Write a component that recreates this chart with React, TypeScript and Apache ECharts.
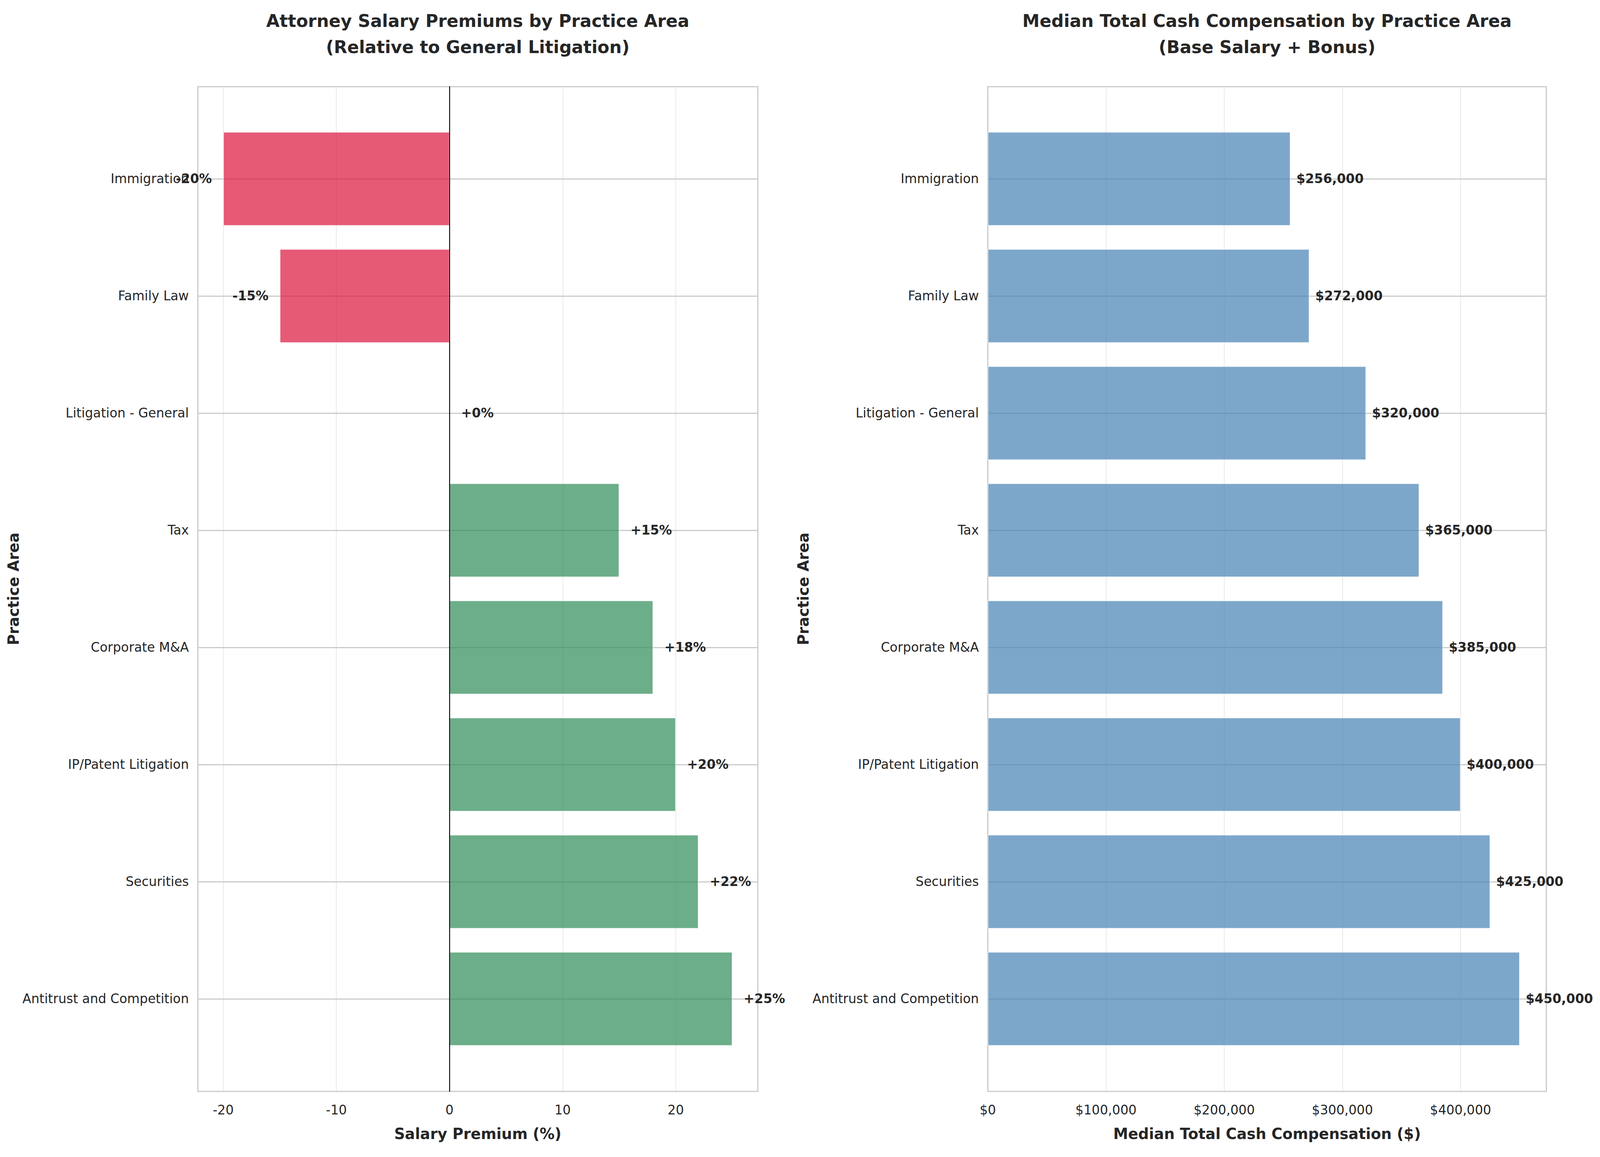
import React, { useEffect, useRef } from "react";
import * as echarts from "echarts";

const categories = [
  "Immigration",
  "Family Law",
  "Litigation - General",
  "Tax",
  "Corporate M&A",
  "IP/Patent Litigation",
  "Securities",
  "Antitrust and Competition",
];
const premiums = [-20, -15, 0, 15, 18, 20, 22, 25];
const compensation = [256000, 272000, 320000, 365000, 385000, 400000, 425000, 450000];

const leftTitle = "Attorney Salary Premiums by Practice Area\n(Relative to General Litigation)";
const rightTitle = "Median Total Cash Compensation by Practice Area\n(Base Salary + Bonus)";
const leftXName = "Salary Premium (%)";
const rightXName = "Median Total Cash Compensation ($)";
const yName = "Practice Area";

const FONT = "DejaVu Sans";
const TXT = "#262626";
const REF_W = 5363;
const REF_H = 2963;

const fmtMoney = (v: number) => "$" + Math.round(v).toLocaleString("en-US");
const fmtPct = (v: number) => (v >= 0 ? "+" : "") + v + "%";

export default function App() {
  const ref = useRef<HTMLDivElement>(null);
  useEffect(() => {
    if (!ref.current) return;
    const chart = echarts.init(ref.current, null, { renderer: "svg" });
    const cw = chart.getWidth();
    const ch = chart.getHeight();
    const sx = cw / REF_W;
    const sy = ch / REF_H;
    const fs = Math.min(sx, sy);
    const X = (v: number) => v * sx;
    const Y = (v: number) => v * sy;
    const F = (v: number) => v * fs;

    const L = { left: X(663), right: X(REF_W - 2540) };
    const R = { left: X(3311), right: X(REF_W - 5183) };
    const frameTB = { top: Y(222), bottom: Y(REF_H - 2795) };
    const barTB = { top: Y(458), bottom: Y(REF_H - 2558) };

    const valueFrameX = (gridIndex: number, min: number, max: number, name: string, fmt?: (v: number) => string, interval?: number) => ({
      type: "value",
      gridIndex,
      min,
      max,
      ...(interval ? { interval } : {}),
      axisLine: { show: false },
      axisTick: { show: false },
      splitLine: { show: true, lineStyle: { color: "rgba(204,204,204,0.4)", width: F(3) } },
      axisLabel: {
        fontSize: F(43),
        color: TXT,
        fontFamily: FONT,
        margin: Y(31),
        showMinLabel: min === 0,
        showMaxLabel: false,
        ...(fmt ? { formatter: fmt } : {}),
      },
      name,
      nameLocation: "middle",
      nameGap: Y(90),
      nameTextStyle: { fontSize: F(50), fontWeight: "bold", color: TXT, fontFamily: FONT },
    });

    const hiddenX = (gridIndex: number, min: number, max: number) => ({
      type: "value",
      gridIndex,
      min,
      max,
      show: false,
      splitLine: { show: false },
    });

    const catY = (gridIndex: number, nameGap: number) => ({
      type: "category",
      gridIndex,
      data: categories,
      inverse: true,
      boundaryGap: false,
      axisLine: { show: false },
      axisTick: { show: false },
      axisLabel: { fontSize: F(43), color: TXT, fontFamily: FONT, margin: X(30), interval: 0 },
      splitLine: { show: true, interval: 0, lineStyle: { color: "#cccccc", width: F(4) } },
      name: yName,
      nameLocation: "middle",
      nameGap: X(nameGap),
      nameRotate: 90,
      nameTextStyle: { fontSize: F(50), fontWeight: "bold", color: TXT, fontFamily: FONT },
    });

    const premiumData = premiums.map((v) => ({
      value: v,
      itemStyle: { color: v < 0 ? "rgba(220,20,60,0.7)" : "rgba(46,139,87,0.7)" },
      label: { position: v < 0 ? "left" : "right" },
    }));

    const titleText = (text: string, cx: number) => ({
      type: "text",
      x: X(cx),
      y: Y(20),
      style: {
        text,
        textAlign: "center",
        textVerticalAlign: "top",
        fontSize: F(58),
        fontWeight: "bold",
        fontFamily: FONT,
        lineHeight: Y(67),
        fill: TXT,
      },
    });

    const option = {
      animation: false,
      backgroundColor: "#ffffff",
      textStyle: { fontFamily: FONT },
      grid: [
        { ...L, ...frameTB, show: true, borderColor: "#cccccc", borderWidth: F(4), backgroundColor: "transparent" },
        { ...L, ...barTB },
        { ...R, ...frameTB, show: true, borderColor: "#cccccc", borderWidth: F(4), backgroundColor: "transparent" },
        { ...R, ...barTB },
      ],
      xAxis: [
        valueFrameX(0, -22.25, 27.25, leftXName),
        hiddenX(1, -22.25, 27.25),
        valueFrameX(2, 0, 472500, rightXName, fmtMoney, 100000),
        hiddenX(3, 0, 472500),
      ],
      yAxis: [
        {
          type: "value",
          gridIndex: 0,
          min: 0,
          max: 1,
          z: 5,
          axisLabel: { show: false },
          axisTick: { show: false },
          splitLine: { show: false },
          axisLine: { show: true, onZero: true, lineStyle: { color: "#000000", width: F(3) } },
        },
        catY(1, 590),
        { type: "value", gridIndex: 2, min: 0, max: 1, show: false },
        catY(3, 590),
      ],
      graphic: [
        titleText(leftTitle, (663 + 2540) / 2),
        titleText(rightTitle, (3311 + 5183) / 2),
      ],
      series: [
        {
          type: "bar",
          xAxisIndex: 1,
          yAxisIndex: 1,
          barWidth: "80%",
          clip: false,
          data: premiumData,
          itemStyle: { borderColor: "rgba(255,255,255,0.7)", borderWidth: F(2) },
          label: {
            show: true,
            distance: X(38),
            fontSize: F(43),
            fontWeight: "bold",
            color: TXT,
            fontFamily: FONT,
            formatter: (p: any) => fmtPct(p.value),
          },
        },
        {
          type: "bar",
          xAxisIndex: 3,
          yAxisIndex: 3,
          barWidth: "80%",
          clip: false,
          data: compensation,
          itemStyle: { color: "rgba(70,130,180,0.7)", borderColor: "rgba(255,255,255,0.7)", borderWidth: F(2) },
          label: {
            show: true,
            position: "right",
            distance: X(20),
            fontSize: F(43),
            fontWeight: "bold",
            color: TXT,
            fontFamily: FONT,
            formatter: (p: any) => fmtMoney(p.value),
          },
        },
      ],
    };

    chart.setOption(option as any);
    return () => chart.dispose();
  }, []);

  return (
    <div
      ref={ref}
      style={{ position: "fixed", left: 0, top: 0, width: "100vw", height: "100vh", background: "#fff" }}
    />
  );
}
